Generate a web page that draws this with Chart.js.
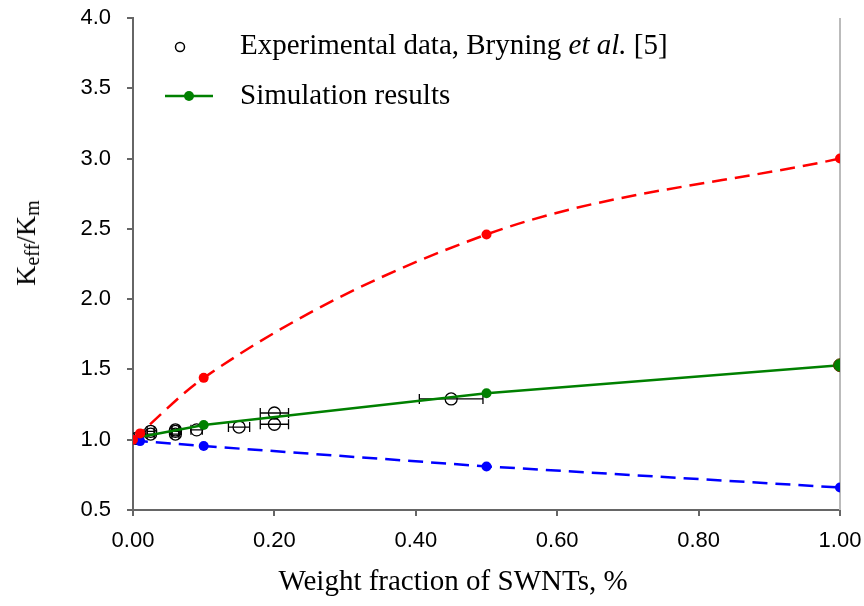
<!DOCTYPE html>
<html>
<head>
<meta charset="utf-8">
<script src="https://cdn.jsdelivr.net/npm/chart.js@4.4.1/dist/chart.umd.min.js"></script>
<style>
    body { margin: 0; background: #fff; }
    #wrap { position: relative; width: 864px; height: 606px; }
    .legend { position: absolute; font-family: "Liberation Serif", "Times New Roman", serif; font-size: 29px; color: #000; white-space: nowrap; }
    #ytitle { position: absolute; left: 27px; top: 243px; transform: translate(-50%, -50%) rotate(-90deg);
        font-family: "Liberation Serif", "Times New Roman", serif; font-size: 28px; white-space: nowrap; }
    #ytitle sub { font-size: 20px; vertical-align: -4px; }
    #xtitle { position: absolute; left: 453px; top: 580px; transform: translate(-50%, -50%);
        font-family: "Liberation Serif", "Times New Roman", serif; font-size: 29px; white-space: nowrap; }
</style>
</head>
<body>
<div id="wrap">
    <canvas id="kChart"></canvas>
    <div class="legend" style="left:240px; top:28px;">Experimental data, Bryning <i>et al.</i> [5]</div>
    <div class="legend" style="left:240px; top:78px;">Simulation results</div>
    <div id="ytitle">K<sub>eff</sub>/K<sub>m</sub></div>
    <div id="xtitle">Weight fraction of SWNTs, %</div>
</div>
<script>
// Valores
const simX = [0, 0.01, 0.1, 0.5, 1.0];
const upperY = [1.0, 1.045, 1.44, 2.46, 3.0];
const lowerY = [1.0, 0.99, 0.955, 0.81, 0.66];
const simY = [1.0, 1.02, 1.105, 1.33, 1.53];

const expX = [0.005, 0.025, 0.025, 0.06, 0.06, 0.06, 0.09, 0.15, 0.20, 0.20, 0.45];
const expY = [1.01, 1.04, 1.06, 1.04, 1.06, 1.07, 1.07, 1.09, 1.11, 1.19, 1.29];
const expErr = [0.003, 0.005, 0.005, 0.005, 0.005, 0.005, 0.008, 0.015, 0.02, 0.02, 0.045];

const xTicks = [0, 0.2, 0.4, 0.6, 0.8, 1.0];
const yTicks = [0.5, 1.0, 1.5, 2.0, 2.5, 3.0, 3.5, 4.0];

const toPoints = (xs, ys) => xs.map((x, i) => ({ x: x, y: ys[i] }));

// barras de erro horizontais + borda direita + legenda
const extras = {
    id: 'extras',
    beforeDatasetsDraw(chart) {
        const { ctx, chartArea, scales } = chart;
        ctx.save();
        ctx.strokeStyle = '#bbbbbb';
        ctx.lineWidth = 2;
        ctx.beginPath();
        ctx.moveTo(chartArea.right, chartArea.top);
        ctx.lineTo(chartArea.right, chartArea.bottom);
        ctx.stroke();

        ctx.strokeStyle = '#000';
        ctx.lineWidth = 1.3;
        expX.forEach((x, i) => {
            const y = scales.y.getPixelForValue(expY[i]);
            const x1 = scales.x.getPixelForValue(x - expErr[i]);
            const x2 = scales.x.getPixelForValue(x + expErr[i]);
            ctx.beginPath();
            ctx.moveTo(x1, y); ctx.lineTo(x2, y);
            ctx.moveTo(x1, y - 5); ctx.lineTo(x1, y + 5);
            ctx.moveTo(x2, y - 5); ctx.lineTo(x2, y + 5);
            ctx.stroke();
        });
        ctx.restore();
    },
    afterDraw(chart) {
        const ctx = chart.ctx;
        ctx.save();
        ctx.strokeStyle = '#000';
        ctx.lineWidth = 1.5;
        ctx.beginPath();
        ctx.arc(180, 47, 4.5, 0, Math.PI * 2);
        ctx.stroke();
        ctx.strokeStyle = '#008000';
        ctx.lineWidth = 2.5;
        ctx.beginPath();
        ctx.moveTo(165, 96); ctx.lineTo(213, 96);
        ctx.stroke();
        ctx.fillStyle = '#008000';
        ctx.beginPath();
        ctx.arc(189, 96, 5, 0, Math.PI * 2);
        ctx.fill();
        ctx.restore();
    }
};

const tickFont = { family: '"Liberation Sans", Arial, sans-serif', size: 22 };

const ctx = document.getElementById('kChart').getContext('2d');
const kChart = new Chart(ctx, {
    type: 'scatter',
    data: {
        datasets: [
            {
                data: toPoints(simX, upperY),
                showLine: true,
                borderColor: '#ff0000',
                backgroundColor: '#ff0000',
                borderWidth: 2.5,
                borderDash: [15, 8],
                cubicInterpolationMode: 'monotone',
                pointRadius: 5,
                pointBorderWidth: 0
            },
            {
                data: toPoints(simX, lowerY),
                showLine: true,
                borderColor: '#0000ff',
                backgroundColor: '#0000ff',
                borderWidth: 2.5,
                borderDash: [15, 8],
                pointRadius: 5,
                pointBorderWidth: 0
            },
            {
                data: toPoints(simX, simY),
                showLine: true,
                borderColor: '#008000',
                backgroundColor: '#008000',
                borderWidth: 2.5,
                pointRadius: [5, 4, 5, 5, 6.5],
                pointBorderColor: ['#008000', '#008000', '#008000', '#008000', '#5a3a00'],
                pointBorderWidth: [0, 0, 0, 0, 1]
            },
            {
                data: toPoints(expX, expY),
                showLine: false,
                borderColor: '#000',
                backgroundColor: 'rgba(0,0,0,0)',
                pointRadius: 6,
                pointBorderWidth: 1.3
            }
        ]
    },
    options: {
        responsive: true,
        maintainAspectRatio: false,
        animation: false,
        layout: { padding: { left: 0, right: 24, top: 18, bottom: 0 } },
        plugins: {
            legend: { display: false },
            tooltip: { enabled: false }
        },
        scales: {
            x: {
                type: 'linear',
                min: 0,
                max: 1,
                afterBuildTicks: (scale) => { scale.ticks = xTicks.map(v => ({ value: v })); },
                afterFit: (scale) => {
                    scale.height = 96;
                    scale.paddingLeft = 0;
                    scale.paddingRight = 0;
                },
                ticks: {
                    color: '#000',
                    font: tickFont,
                    padding: 12,
                    maxRotation: 0,
                    callback: (v) => Number(v).toFixed(2)
                },
                grid: { drawOnChartArea: false, color: '#666', tickLength: 6, lineWidth: 2 },
                border: { color: '#666', width: 2 }
            },
            y: {
                type: 'linear',
                min: 0.5,
                max: 4.0,
                afterBuildTicks: (scale) => { scale.ticks = yTicks.map(v => ({ value: v })); },
                afterFit: (scale) => {
                    scale.width = 133;
                    scale.paddingTop = 0;
                    scale.paddingBottom = 0;
                },
                ticks: {
                    color: '#000',
                    font: tickFont,
                    padding: 16,
                    callback: (v) => Number(v).toFixed(1)
                },
                grid: { drawOnChartArea: false, color: '#666', tickLength: 6, lineWidth: 2 },
                border: { color: '#666', width: 2 }
            }
        }
    },
    plugins: [extras]
});
</script>
</body>
</html>
